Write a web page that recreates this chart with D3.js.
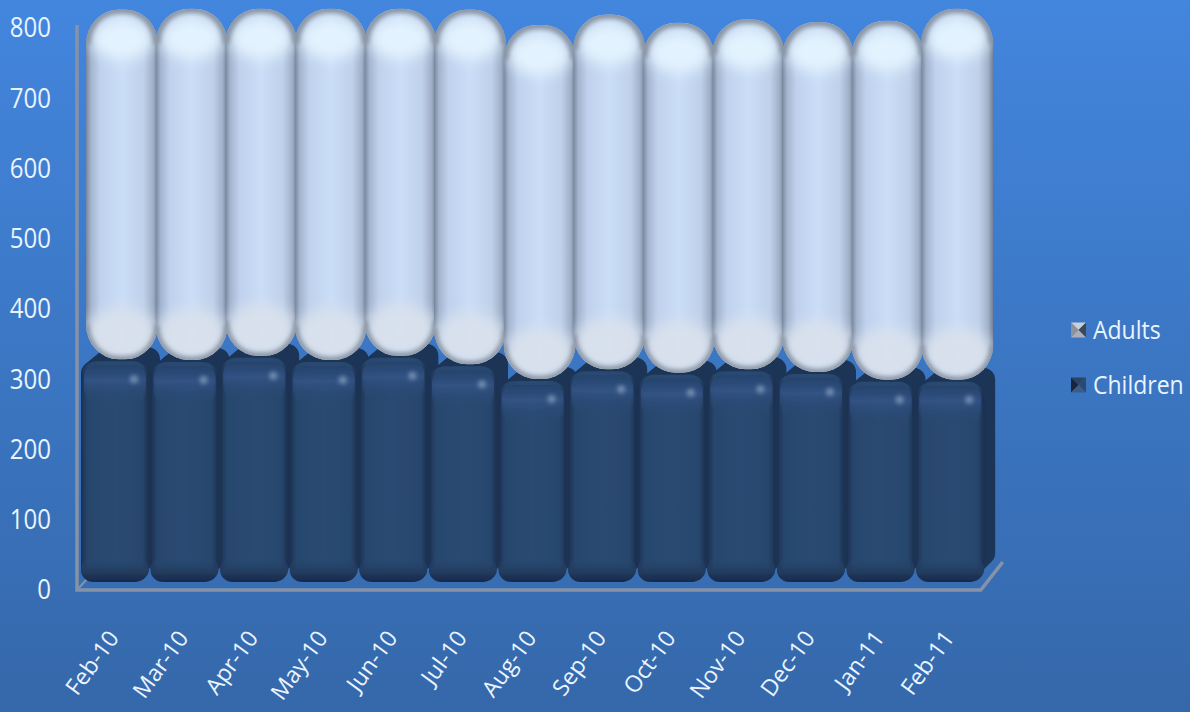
<!DOCTYPE html>
<html>
<head>
<meta charset="utf-8">
<script src="https://cdnjs.cloudflare.com/ajax/libs/d3/7.8.5/d3.min.js"></script>
<style>
    html, body { margin: 0; padding: 0; background: #3b77c4; overflow: hidden; }
    text { font-family: "Open Sans", sans-serif; fill: #eaf4ff; }
</style>
</head>
<body>
<svg id="chart"></svg>
<script>
var months = ["Feb-10", "Mar-10", "Apr-10", "May-10", "Jun-10", "Jul-10", "Aug-10",
              "Sep-10", "Oct-10", "Nov-10", "Dec-10", "Jan-11", "Feb-11"];
var children = [317, 316, 322, 316, 322, 310, 289, 303, 298, 303, 299, 288, 288];
var adults = [498, 500, 494, 500, 494, 505, 504, 505, 498, 498, 498, 511, 528];
var yTicks = [0, 100, 200, 300, 400, 500, 600, 700, 800];
var legendNames = ["Adults", "Children"];

var width = 1190;
var height = 712;
var svg = d3.select("#chart").attr("width", width).attr("height", height);
var defs = svg.append("defs");

function gradient(id, vertical, stops) {
    var g = defs.append("linearGradient").attr("id", id)
        .attr("x1", 0).attr("y1", 0)
        .attr("x2", vertical ? 0 : 1).attr("y2", vertical ? 1 : 0);
    stops.forEach(function (s) {
        g.append("stop").attr("offset", s[0]).attr("stop-color", s[1]).attr("stop-opacity", s[2] === undefined ? 1 : s[2]);
    });
}
function blur(id, dev) {
    defs.append("filter").attr("id", id)
        .attr("x", "-50%").attr("y", "-50%").attr("width", "200%").attr("height", "200%")
        .append("feGaussianBlur").attr("stdDeviation", dev);
}
gradient("bg", true, [[0, "#4386de"], [0.45, "#3c78c6"], [1, "#3568aa"]]);
gradient("adultBody", false, [[0, "#75869c"], [0.07, "#a3b4ce"], [0.2, "#bfd1ec"], [0.5, "#cbdef7"], [0.8, "#bfd1ea"], [0.93, "#a0b0c8"], [1, "#707f94"]]);
gradient("childBody", false, [[0, "#1c3050"], [0.1, "#28466d"], [0.5, "#2a4a73"], [0.9, "#28466d"], [1, "#1b2f4e"]]);
gradient("childTop", true, [[0, "#24406a", 0.7], [0.4, "#34578a", 0.75], [1, "#2a4a73", 0]]);
gradient("childBottom", true, [[0, "#2a4a73", 0], [0.65, "#213a5c", 1], [1, "#17284a", 1]]);
blur("soft", 0.7);
blur("dotBlur", 2.2);
blur("rimBlur", 2.2);
blur("glowBlur", 7);

svg.append("rect").attr("width", width).attr("height", height).attr("fill", "url(#bg)");

var x = d3.scaleBand().domain(months).range([79, 79 + 69.6 * months.length]);
var y = d3.scaleLinear().domain([0, 800]).range([582, 20]);

var stacked = d3.stack().keys(["children", "adults"])(months.map(function (m, i) {
    return { month: m, children: children[i], adults: adults[i] };
}));
var childSeries = stacked[0];
var adultSeries = stacked[1];

// walls and floor of the 3d box
var wallColor = "#8592a8";
var floorY = y(0) + 8;
var floorRight = x.range()[1] - 3;
svg.append("path")
    .attr("d", "M77," + (y(800) + 5) + "V" + floorY + "H" + floorRight + "l22,-28")
    .attr("fill", "none").attr("stroke", wallColor).attr("stroke-width", 3.5);
svg.append("path")
    .attr("d", "M77," + floorY + "l10,-11")
    .attr("fill", "none").attr("stroke", wallColor).attr("stroke-width", 2);

// children columns, left to right so each front covers the neighbour's side
var depthX = 17, depthY = 20, childW = 62, sideBottom = 29;
var childG = svg.append("g").attr("filter", "url(#soft)");
var child = childG.selectAll("g").data(childSeries).enter().append("g")
    .attr("transform", function (d) { return "translate(" + (x(d.data.month) + 2) + ",0)"; });

child.append("path")
    .attr("fill", "#1e3456").attr("stroke", "#1e3456")
    .attr("stroke-width", 24).attr("stroke-linejoin", "round")
    .attr("d", function (d) {
        var t = y(d[1]) + 14, b = y(0) - 12;
        return "M12," + t + "L" + (depthX + 12) + "," + (t - depthY + 6) + "H" + (childW + depthX - 12) +
            "V" + (b - sideBottom + 12) + "L" + (childW - 12) + "," + b + "H12Z";
    });
child.append("rect")
    .attr("x", 0).attr("width", childW + 6)
    .attr("y", function (d) { return y(d[1]) + 2; })
    .attr("height", function (d) { return y(0) - y(d[1]) - 2; })
    .attr("rx", 16).attr("fill", "url(#childBody)");
child.append("rect")
    .attr("x", 3).attr("width", childW)
    .attr("y", function (d) { return y(d[1]) + 6; })
    .attr("height", 38).attr("rx", 12).attr("fill", "url(#childTop)");
child.append("rect")
    .attr("x", 0).attr("width", childW + 6)
    .attr("y", y(0) - 26).attr("height", 26)
    .attr("rx", 15).attr("fill", "url(#childBottom)");
child.append("circle")
    .attr("cx", childW - 9)
    .attr("cy", function (d) { return y(d[1]) + 20; })
    .attr("r", 4).attr("fill", "#9fb4cf").attr("opacity", 0.6)
    .attr("filter", "url(#dotBlur)");

// adults capsules
var adultW = 72, capR = 33;
adultSeries.forEach(function (d, i) { d.idx = i; });
defs.selectAll("clipPath.cap").data(adultSeries).enter().append("clipPath")
    .attr("class", "cap")
    .attr("id", function (d) { return "cap" + d.idx; })
    .append("rect")
    .attr("width", adultW).attr("rx", capR).attr("ry", capR + 2)
    .attr("y", function (d) { return y(d[1]); })
    .attr("height", function (d) { return y(d[0]) - y(d[1]); });

var adultG = svg.append("g").attr("filter", "url(#soft)");
var adult = adultG.selectAll("g").data(adultSeries).enter().append("g")
    .attr("transform", function (d) { return "translate(" + (x(d.data.month) + 7) + ",0)"; })
    .attr("clip-path", function (d) { return "url(#cap" + d.idx + ")"; });

adult.append("rect")
    .attr("width", adultW).attr("fill", "url(#adultBody)")
    .attr("y", function (d) { return y(d[1]); })
    .attr("height", function (d) { return y(d[0]) - y(d[1]); });
// pale glow in the dome
adult.append("ellipse")
    .attr("cx", adultW / 2).attr("rx", 31).attr("ry", 20)
    .attr("cy", function (d) { return y(d[1]) + 30; })
    .attr("fill", "#e3f3fe").attr("filter", "url(#glowBlur)");
// whiter belly at the bottom
adult.append("ellipse")
    .attr("cx", adultW / 2).attr("rx", 36).attr("ry", 26)
    .attr("cy", function (d) { return y(d[0]) - 26; })
    .attr("fill", "#d9e1ec").attr("opacity", 0.95).attr("filter", "url(#glowBlur)");
// rim following the domes only, open arcs so the sides stay on the body gradient
adult.append("path")
    .attr("d", function (d) {
        var t = y(d[1]) + capR + 2;
        return "M0," + t + "A" + capR + "," + (capR + 2) + " 0 0 1 " + capR + "," + (t - capR - 2) +
            "H" + (adultW - capR) + "A" + capR + "," + (capR + 2) + " 0 0 1 " + adultW + "," + t;
    })
    .attr("fill", "none").attr("stroke", "#8c97a6").attr("stroke-width", 9)
    .attr("filter", "url(#rimBlur)");
adult.append("path")
    .attr("d", function (d) {
        var b = y(d[0]) - capR - 2;
        return "M0," + b + "A" + capR + "," + (capR + 2) + " 0 0 0 " + capR + "," + (b + capR + 2) +
            "H" + (adultW - capR) + "A" + capR + "," + (capR + 2) + " 0 0 0 " + adultW + "," + b;
    })
    .attr("fill", "none").attr("stroke", "#8f99a7").attr("stroke-width", 7)
    .attr("filter", "url(#rimBlur)");

// axes
var yAxis = svg.append("g")
    .attr("transform", "translate(51,8)")
    .call(d3.axisLeft(y).tickValues(yTicks).tickSize(0).tickPadding(0));
yAxis.select(".domain").remove();
yAxis.selectAll("text").style("font-size", "24px").attr("fill", null)
    .attr("transform", "scale(1,1.16)");

var xAxis = svg.append("g")
    .attr("transform", "translate(-5,630)")
    .call(d3.axisBottom(x).tickSize(0).tickPadding(0));
xAxis.select(".domain").remove();
xAxis.selectAll("text")
    .style("font-size", "23px").attr("fill", null)
    .attr("text-anchor", "end").attr("dy", "0.6em").attr("y", 0).attr("x", 0)
    .attr("transform", "rotate(-54)");

// legend with the little pyramid keys
var legendShades = [
    ["#c9d0da", "#8d929b", "#3f4753", "#a9b0bc"],
    ["#2b4466", "#16243c", "#2a4a72", "#3b5c88"]
];
var legendY = d3.scalePoint().domain(legendNames).range([330, 385]);
var legend = svg.selectAll("g.legend").data(legendNames).enter().append("g")
    .attr("class", "legend")
    .attr("transform", function (d) { return "translate(1071," + legendY(d) + ")"; });
legend.append("text").attr("x", 22).attr("dy", "0.35em").style("font-size", "23px")
    .attr("transform", "scale(1,1.14)").text(function (d) { return d; });
legend.each(function (d, i) {
    var g = d3.select(this), s = 7.5;
    var tris = [
        [[0, -s], [2 * s, -s], [s, 0]],
        [[0, -s], [0, s], [s, 0]],
        [[2 * s, -s], [2 * s, s], [s, 0]],
        [[0, s], [2 * s, s], [s, 0]]
    ];
    tris.forEach(function (t, k) {
        g.append("path").attr("d", d3.line()(t) + "Z").attr("fill", legendShades[i][k]);
    });
});
</script>
</body>
</html>
